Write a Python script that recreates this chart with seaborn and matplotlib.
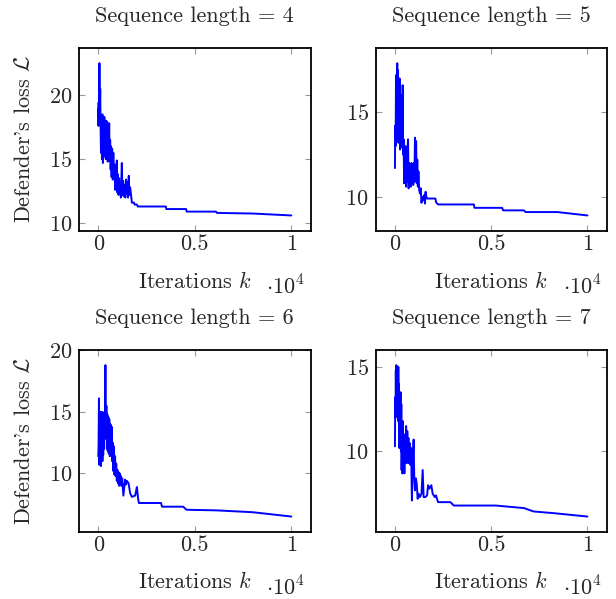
"""
Defender's loss vs iterations for sequence lengths 4-7 (2x2 grid).
Output: out.png
"""
import pandas as pd
import matplotlib.pyplot as plt
import seaborn as sns

FIG_PATH = "out.png"

# Sequence length 4
iters_4 = [0, 10, 25, 40, 60, 80, 100, 120, 140, 170, 190, 215, 240, 265, 290,
           315, 340, 365, 390, 415, 440, 465, 490, 515, 540, 565, 590, 615, 640,
           665, 690, 720, 750, 780, 810, 840, 870, 900, 930, 960, 990, 1020,
           1050, 1080, 1110, 1140, 1170, 1200, 1220, 1250, 1290, 1320, 1360,
           1400, 1440, 1470, 1500, 1540, 1580, 1610, 1650, 1690, 1740, 1850,
           1880, 2000, 2050, 3500, 3520, 4550, 4580, 6100, 6140, 8000, 10000]
loss_4 = [19.4, 17.6, 19.0, 17.8, 22.5, 18.0, 20.5, 17.5, 15.5, 18.0, 15.0,
          18.5, 14.7, 17.2, 15.2, 18.3, 15.8, 17.0, 15.0, 18.0, 15.5, 17.9,
          14.8, 17.5, 15.5, 17.8, 14.9, 16.5, 14.2, 16.0, 13.6, 15.8, 13.4,
          15.5, 13.6, 14.6, 12.6, 14.0, 12.8, 14.9, 12.4, 13.8, 12.2, 13.5,
          12.5, 13.2, 12.0, 13.6, 14.7, 12.2, 13.3, 12.1, 13.0, 12.0, 13.4,
          12.3, 13.2, 12.0, 13.7, 12.2, 12.8, 12.3, 11.6, 11.6, 11.45, 11.45,
          11.3, 11.3, 11.1, 11.1, 10.9, 10.9, 10.8, 10.75, 10.6]

# Sequence length 5
iters_5 = [0, 15, 35, 55, 75, 100, 120, 140, 160, 180, 200, 220, 240, 260, 280,
           300, 320, 340, 360, 380, 400, 425, 450, 475, 500, 525, 550, 575, 600,
           625, 650, 680, 710, 740, 770, 800, 830, 860, 890, 920, 950, 980,
           1010, 1040, 1070, 1100, 1130, 1160, 1190, 1220, 1260, 1300, 1340,
           1380, 1420, 1470, 1520, 1560, 1590, 1630, 1670, 2100, 2150, 2250,
           4100, 4130, 5570, 5620, 6700, 6790, 8440, 10000]
loss_5 = [11.7, 14.2, 13.0, 17.2, 14.0, 16.8, 17.9, 14.5, 17.5, 13.2, 16.9,
          14.0, 17.0, 12.8, 15.5, 13.2, 16.0, 13.0, 14.5, 12.9, 16.6, 12.5,
          13.4, 10.8, 12.8, 11.0, 13.0, 10.6, 12.2, 10.9, 12.8, 13.4, 10.5,
          12.0, 10.8, 11.8, 10.6, 12.0, 11.0, 11.8, 10.7, 12.0, 10.9, 13.5,
          11.0, 13.3, 10.8, 12.2, 10.6, 11.5, 10.4, 10.2, 10.5, 9.65, 10.0,
          9.8, 10.1, 9.6, 10.3, 10.0, 9.9, 9.9, 9.65, 9.55, 9.55, 9.35, 9.35,
          9.2, 9.2, 9.1, 9.1, 8.9]

# Sequence length 6
iters_6 = [0, 15, 35, 55, 75, 95, 115, 135, 155, 175, 195, 215, 235, 255, 275,
           295, 315, 340, 370, 395, 420, 445, 470, 495, 520, 545, 570, 600, 630,
           660, 690, 720, 750, 780, 810, 840, 870, 900, 930, 960, 990, 1020,
           1050, 1080, 1110, 1140, 1170, 1200, 1240, 1300, 1390, 1440, 1480,
           1570, 1650, 1740, 1910, 2000, 2060, 2100, 3250, 3300, 4400, 4570,
           6140, 8000, 10000]
loss_6 = [11.4, 12.2, 16.1, 10.7, 14.6, 11.0, 15.0, 10.6, 14.2, 11.2, 15.0,
          11.0, 14.8, 11.5, 14.5, 12.0, 15.0, 12.8, 18.8, 13.0, 15.5, 12.0,
          14.8, 11.8, 14.6, 11.6, 14.4, 11.4, 14.0, 11.6, 13.8, 11.0, 12.5,
          10.2, 12.2, 9.9, 11.4, 9.8, 10.8, 9.4, 10.3, 9.2, 10.1, 9.0, 10.0,
          9.3, 9.8, 9.0, 9.6, 8.2, 9.5, 9.1, 9.4, 9.2, 8.4, 8.1, 8.2, 8.9,
          8.0, 7.6, 7.6, 7.3, 7.3, 7.05, 7.0, 6.85, 6.5]

# Sequence length 7
iters_7 = [0, 15, 30, 45, 60, 75, 90, 105, 120, 140, 160, 175, 190, 210, 230,
           250, 270, 290, 310, 330, 345, 365, 385, 405, 430, 460, 490, 520, 550,
           580, 610, 640, 670, 700, 730, 760, 800, 840, 880, 930, 970, 1000,
           1040, 1090, 1130, 1180, 1230, 1300, 1380, 1440, 1490, 1580, 1670,
           1720, 1790, 1890, 1960, 2070, 2130, 2240, 2880, 2970, 3060, 5240,
           6700, 7200, 8240, 10000]
loss_7 = [10.3, 13.2, 12.0, 14.8, 12.5, 15.1, 13.0, 15.0, 12.8, 14.9, 11.8,
          15.0, 12.5, 14.0, 10.2, 13.0, 11.5, 13.5, 10.0, 12.8, 8.9, 11.0, 8.7,
          11.8, 10.5, 11.0, 8.7, 11.0, 9.5, 11.5, 9.3, 11.2, 9.4, 10.8, 9.3,
          10.5, 9.2, 10.2, 7.1, 9.5, 10.7, 8.6, 7.7, 8.4, 8.1, 7.2, 7.5, 7.3,
          7.5, 8.9, 7.3, 7.3, 7.4, 8.0, 7.8, 8.0, 7.5, 7.3, 7.4, 7.0, 7.0, 6.9,
          6.8, 6.8, 6.65, 6.45, 6.35, 6.15]

seq_lengths = [4, 5, 6, 7]
series = {4: (iters_4, loss_4), 5: (iters_5, loss_5),
          6: (iters_6, loss_6), 7: (iters_7, loss_7)}
yticks = {4: [10, 15, 20], 5: [10, 15], 6: [10, 15, 20], 7: [10, 15]}

# axes rectangles in figure fractions [left, bottom, width, height]
positions = {4: [0.1282, 0.6149, 0.3761, 0.305],
             5: [0.6099, 0.6149, 0.3750, 0.305],
             6: [0.1282, 0.1124, 0.3761, 0.3033],
             7: [0.6099, 0.1124, 0.3750, 0.3033]}

FS = 16


def main():
    sns.set_style("white")
    plt.rcParams["font.family"] = ["cmr10", "DejaVu Serif"]
    plt.rcParams["mathtext.fontset"] = "cm"
    plt.rcParams["axes.formatter.use_mathtext"] = True
    plt.rcParams["font.size"] = FS

    fig = plt.figure(figsize=(6.16, 5.99), dpi=100)
    for n in seq_lengths:
        ax = fig.add_axes(positions[n])
        x, y = series[n]
        df = pd.DataFrame({"k": x, "loss": y})
        sns.lineplot(data=df, x="k", y="loss", ax=ax, color="#0000ff",
                     linewidth=1.4, estimator=None, sort=False)
        ax.margins(x=0.1, y=0.1)
        ax.set_xticks([0, 5000, 10000])
        ax.set_xticklabels(["0", "0.5", "1"])
        ax.set_yticks(yticks[n])
        ax.tick_params(direction="in", length=4, color="#999999", width=0.8,
                       top=True, right=True, bottom=True, left=True,
                       labelsize=FS)
        ax.tick_params(axis="x", pad=3)
        ax.tick_params(axis="y", pad=5)
        for sp in ax.spines.values():
            sp.set_color("black")
            sp.set_linewidth(1.3)
        ax.set_title(f"Sequence length = {n}", fontsize=FS, pad=19)
        ax.set_xlabel(r"Iterations $k$", fontsize=FS, va="baseline")
        ax.xaxis.set_label_coords(0.5, -0.312)
        ax.text(0.976, -0.352, r"$\cdot 10^4$", transform=ax.transAxes,
                ha="right", va="baseline", fontsize=FS)
        if n in (4, 6):
            ax.set_ylabel(r"Defender's loss $\mathcal{L}$", fontsize=FS)
            ax.yaxis.set_label_coords(-0.194, 0.5)
        else:
            ax.set_ylabel("")

    fig.savefig(FIG_PATH, dpi=100)
    plt.close()
    print(f"Saved {FIG_PATH}")


if __name__ == "__main__":
    main()
